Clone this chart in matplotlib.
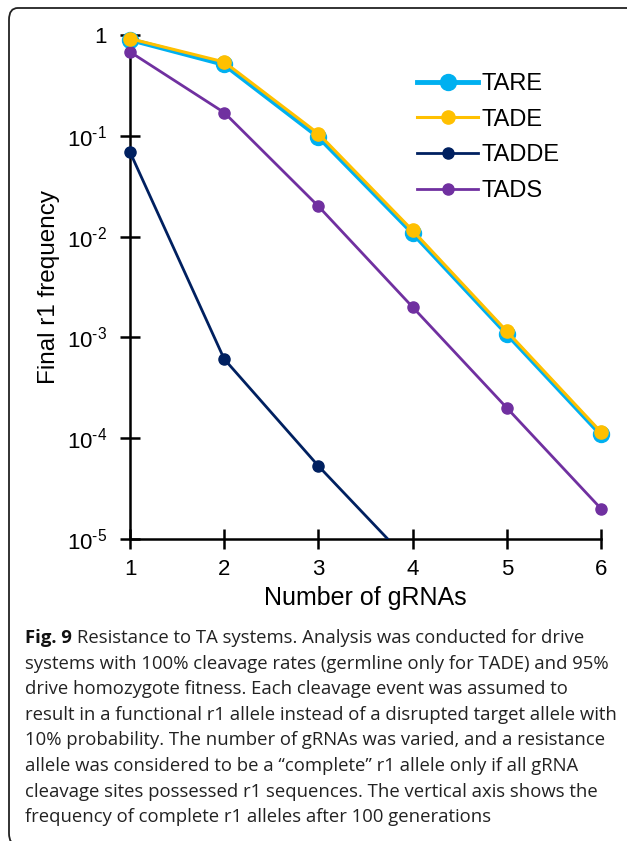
import numpy as np
import matplotlib
matplotlib.use("Agg")
import matplotlib.pyplot as plt
from matplotlib.patches import FancyBboxPatch
from matplotlib.transforms import Bbox, TransformedBbox

plt.rcParams['font.family'] = ['Liberation Sans', 'DejaVu Sans']
plt.rcParams['mathtext.fontset'] = 'custom'
plt.rcParams['mathtext.rm'] = 'Liberation Sans'

# data
grnas = [1, 2, 3, 4, 5, 6]
tare = [0.90, 0.51, 0.098, 0.0109, 0.00109, 1.09e-4]
tade = [0.92, 0.54, 0.105, 0.0115, 0.00115, 1.15e-4]
tadde_x = [1, 2, 3, 4]
tadde = [0.069, 6.1e-4, 5.3e-5, 5.5e-6]
tads = [0.68, 0.17, 0.020, 0.0020, 2.0e-4, 2.0e-5]

yticks = [1, 1e-1, 1e-2, 1e-3, 1e-4, 1e-5]
ylabels = ['1'] + [r'$\mathregular{10^{\text{-}%d}}$' % k for k in range(1, 6)]

cap_head = 'Fig. 9'
cap_lines = [
    "Resistance to TA systems. Analysis was conducted for drive",
    "systems with 100% cleavage rates (germline only for TADE) and 95%",
    "drive homozygote fitness. Each cleavage event was assumed to",
    "result in a functional r1 allele instead of a disrupted target allele with",
    "10% probability. The number of gRNAs was varied, and a resistance",
    "allele was considered to be a \u201ccomplete\u201d r1 allele only if all gRNA",
    "cleavage sites possessed r1 sequences. The vertical axis shows the",
    "frequency of complete r1 alleles after 100 generations",
]

W, H = 627, 841
fig = plt.figure(figsize=(W / 100, H / 100), dpi=100)

# rounded frame round the figure + caption (right and bottom edges run off the picture)
box = FancyBboxPatch((9 / W, -4 / H), 640 / W, (H - 8 + 4) / H,
                     boxstyle="round,pad=0,rounding_size=0.014",
                     transform=fig.transFigure, fill=False, lw=1.3,
                     edgecolor='#222222', clip_on=False)
fig.patches.append(box)

ax = fig.add_axes([130 / W, 1 - 539 / H, (601 - 130) / W, (539 - 35) / H])

ax.plot(grnas, tare, color='#00B0F0', lw=3.5, marker='o', ms=11.5,
        label='TARE', clip_on=False, zorder=3)
ax.plot(grnas, tade, color='#FFC000', lw=2.2, marker='o', ms=9.5,
        label='TADE', clip_on=False, zorder=4)
l, = ax.plot(tadde_x, tadde, color='#002060', lw=2.0, marker='o', ms=8,
             label='TADDE', zorder=3)
# let the marker at x=1 show in full, but cut the line at the x axis
l.set_clip_box(TransformedBbox(Bbox([[-0.1, 0], [1.1, 1.2]]), ax.transAxes))
ax.plot(grnas, tads, color='#7030A0', lw=2.0, marker='o', ms=8,
        label='TADS', clip_on=False, zorder=3)

ax.set_yscale('log')
ax.set_xlim(1, 6)
ax.set_ylim(1e-5, 1)
ax.set_yticks(yticks)
ax.set_yticklabels(ylabels)
ax.yaxis.set_minor_locator(matplotlib.ticker.NullLocator())
ax.set_xticks(grnas)

for s in ['top', 'right']:
    ax.spines[s].set_visible(False)
for s in ['left', 'bottom']:
    ax.spines[s].set_linewidth(1.8)

ax.tick_params(axis='both', direction='inout', length=15, width=1.8,
               labelsize=16, pad=9)
ax.tick_params(axis='x', pad=7)

ax.set_xlabel('Number of gRNAs', fontsize=18, labelpad=4.5)
ax.set_ylabel('Final r1 frequency', fontsize=17.5, labelpad=5)

ax.legend(loc='upper left', bbox_to_anchor=(417 / W, 1 - 73 / H),
          bbox_transform=fig.transFigure, frameon=False, fontsize=17,
          handlelength=2.6, handletextpad=0.15, labelspacing=0.58,
          borderpad=0, borderaxespad=0)

# caption, one line at a time
cap_font = ['Open Sans', 'DejaVu Sans']
x0 = 25 / W
y0 = 643
step = 25.6
fs = 13.3
head = fig.text(x0, 1 - y0 / H, cap_head, fontsize=fs, fontweight='bold',
                family=cap_font, va='baseline', color='#111111')
fig.canvas.draw()
bb = head.get_window_extent()
fig.text((bb.x1 + 5) / W, 1 - y0 / H, cap_lines[0], fontsize=fs,
         family=cap_font, va='baseline', color='#222222')
for i, line in enumerate(cap_lines[1:], start=1):
    fig.text(x0, 1 - (y0 + i * step) / H, line, fontsize=fs,
             family=cap_font, va='baseline', color='#222222')

fig.savefig('out.png', dpi=100)
